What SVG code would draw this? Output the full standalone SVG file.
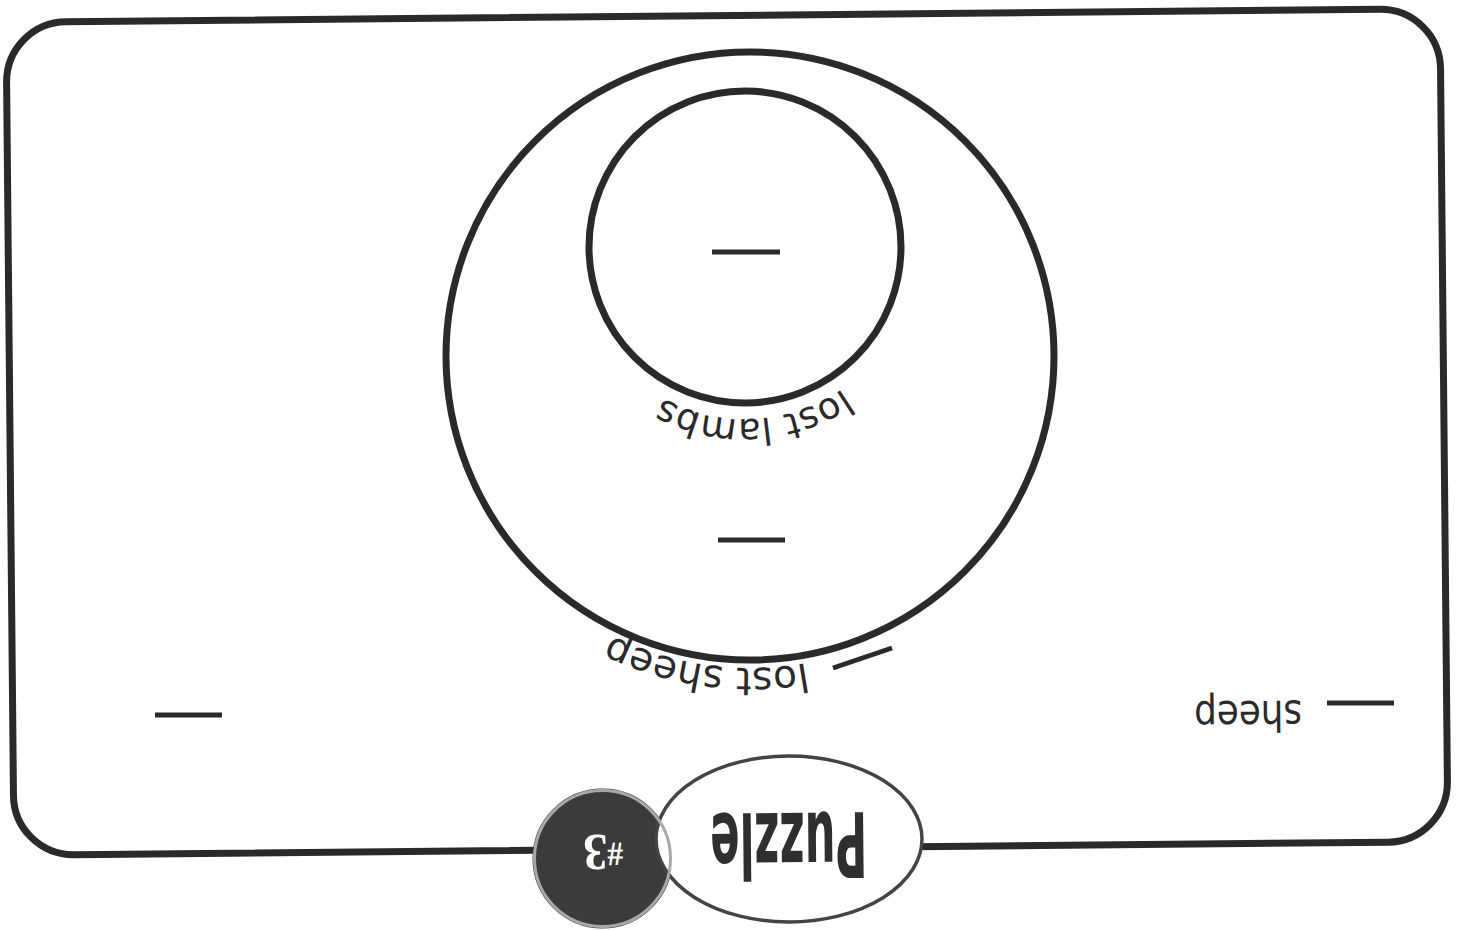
<svg xmlns="http://www.w3.org/2000/svg" xmlns:xlink="http://www.w3.org/1999/xlink" width="1460" height="930" viewBox="0 0 1460 930">
<style>
.ln{fill:none;stroke:#2a2a2a;stroke-width:7}
.blank{stroke:#2a2a2a;stroke-width:5;fill:none}
.lbl{font-family:"DejaVu Sans","Liberation Sans",sans-serif;fill:#2a2a2a}
</style>
<defs>
<path id="arcSheep" d="M 989 556.6 A 312 312 0 0 1 465 482.9"/>
<path id="arcLambs" d="M 898.3 325.1 A 172 172 0 0 1 600.7 340.7"/>
</defs>
<rect width="1460" height="930" fill="#ffffff"/>
<g id="frame">
<rect class="ln" x="10" y="15.5" width="1434" height="833" rx="60" transform="rotate(-0.55 727 432)"/>
</g>
<g id="lost-sheep">
<circle class="ln" cx="750" cy="356" r="304"/>
<text class="lbl" font-size="39"><textPath xlink:href="#arcSheep" href="#arcSheep" startOffset="50%" text-anchor="middle">lost sheep</textPath></text>
</g>
<g id="lost-lambs">
<circle class="ln" cx="745" cy="247" r="156"/>
<text class="lbl" font-size="37"><textPath xlink:href="#arcLambs" href="#arcLambs" startOffset="50%" text-anchor="middle">lost lambs</textPath></text>
</g>
<g id="sheep">
<text class="lbl" font-size="42" text-anchor="middle" textLength="108" lengthAdjust="spacingAndGlyphs" transform="translate(1248 701) rotate(179.45)">sheep</text>
</g>
<g id="blanks">
<line class="blank" x1="712" y1="252" x2="780" y2="252"/>
<line class="blank" x1="718" y1="540" x2="785" y2="540"/>
<line class="blank" x1="155" y1="715" x2="222" y2="715"/>
<line class="blank" x1="1327" y1="703" x2="1394" y2="703"/>
<line class="blank" x1="833" y1="668" x2="892" y2="648"/>
</g>
<g id="connectors"></g>
<g id="badge">
<circle cx="602.5" cy="858.5" r="69" fill="#3b3b3b" stroke="#3b3b3b" stroke-width="2"/>
<ellipse cx="789" cy="839" rx="133" ry="83" fill="#ffffff" stroke="#444444" stroke-width="3.5"/>
<circle cx="602.5" cy="858.5" r="68" fill="none" stroke="#a8a8a8" stroke-width="3"/>
<text font-family="'DejaVu Sans','Liberation Sans',sans-serif" font-weight="bold" font-size="90" fill="#2f2f2f" text-anchor="middle" textLength="157" lengthAdjust="spacingAndGlyphs" transform="translate(788.5 813) rotate(179.45)">Puzzle</text>
<text font-family="'Liberation Serif','DejaVu Serif',serif" font-weight="bold" fill="#ffffff" text-anchor="middle" textLength="40" lengthAdjust="spacingAndGlyphs" transform="translate(603 835) rotate(179.45)"><tspan font-size="34" dy="-8">#</tspan><tspan font-size="52" dy="8">3</tspan></text>
</g>
</svg>
